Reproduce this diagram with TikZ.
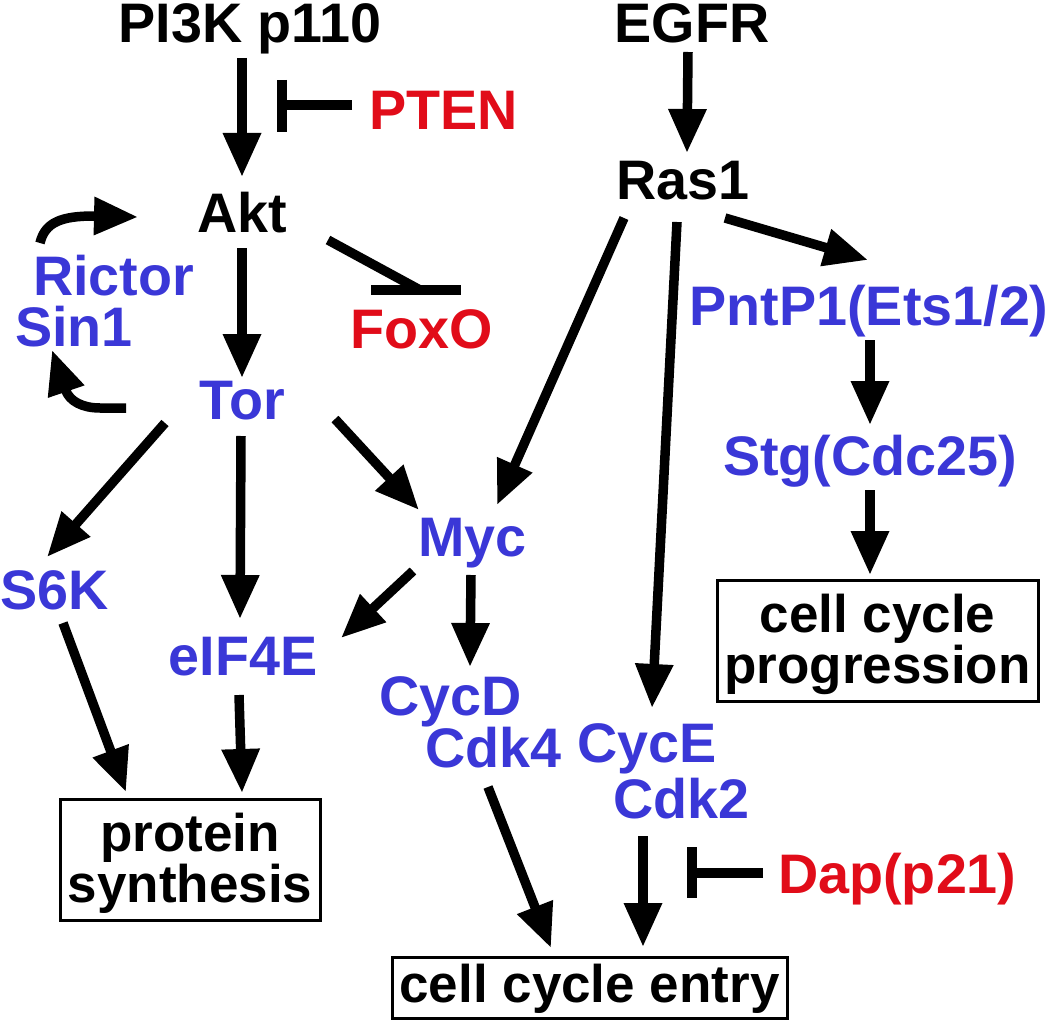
\documentclass[tikz,border=0pt]{standalone}
\usepackage{fontspec}
\setmainfont{Liberation Sans}
\usetikzlibrary{arrows.meta}
\definecolor{nblue}{RGB}{58,55,215}
\definecolor{nred}{RGB}{225,12,25}
\begin{document}
\begin{tikzpicture}[x=1pt,y=-1pt,
  lab/.style={inner sep=0pt, font=\fontsize{55.7}{60}\selectfont\bfseries},
  blk/.style={lab, text=black},
  blu/.style={lab, text=nblue},
  rd/.style={lab, text=nred},
  btxt/.style={inner sep=0pt, anchor=base, font=\fontsize{53}{58}\selectfont\bfseries},
  arr/.style={line width=9.5pt, -{Triangle[length=44pt,width=36pt]}},
  inh/.style={line width=9.5pt},
  boxd/.style={draw, line width=3pt, inner sep=0pt}]
\useasboundingbox (0,0) rectangle (1050,1022);

% ---- labels ----
\node[blk, anchor=base] (pi3k) at (250,43) {PI3K p110};
\node[blk, anchor=base] (egfr) at (692,43) {EGFR};
\node[rd, anchor=base west] (pten) at (369,130) {PTEN};
\node[blk, anchor=base] (akt) at (242,232) {Akt};
\node[blk, anchor=base] (ras) at (683,200) {Ras1};
\node[blu, anchor=base west] (rictor) at (33,295) {Rictor};
\node[blu, anchor=base west] (sin) at (15,346) {Sin1};
\node[rd, anchor=base east] (foxo) at (493,348) {FoxO};
\node[blu, anchor=base] (tor) at (242,419) {Tor};
\node[blu, anchor=base] (pnt) at (869,325) {PntP1(Ets1/2)};
\node[blu, anchor=base] (stg) at (870,475) {Stg(Cdc25)};
\node[blu, anchor=base west] (s6k) at (0,609) {S6K};
\node[blu, anchor=base west] (myc) at (418,556) {Myc};
\node[blu, anchor=base] (eif) at (243,675) {eIF4E};
\node[blu, anchor=base west] (cycd) at (379,715) {CycD};
\node[blu, anchor=base west] (cdk4) at (425,767) {Cdk4};
\node[blu, anchor=base west] (cyce) at (577,762) {CycE};
\node[blu, anchor=base west] (cdk2) at (613,818) {Cdk2};
\node[rd, anchor=base west] (dap) at (778,893) {Dap(p21)};

% ---- boxes ----
\node[boxd, minimum width=260pt, minimum height=121pt] (prot) at (190,859.5) {};
\node[btxt] (prot1) at (190,851) {protein};
\node[btxt] (prot2) at (190,902) {synthesis};
\node[boxd, minimum width=321pt, minimum height=121pt] (prog) at (877.5,640.5) {};
\node[btxt] (prog1) at (877.5,632) {cell cycle};
\node[btxt] (prog2) at (877.5,683) {progression};
\node[boxd, minimum width=395pt, minimum height=61pt] (entry) at (589.5,987.5) {};
\node[btxt] (entry1) at (589.5,1002) {cell cycle entry};

% ---- connector end points ----
\coordinate (a1s) at (242,58);   \coordinate (a1e) at (242,177);
\coordinate (a2s) at (688,52);   \coordinate (a2e) at (687,153);
\coordinate (a3s) at (242,248);  \coordinate (a3e) at (242,378);
\coordinate (a6s) at (165,423);  \coordinate (a6e) at (47,557);
\coordinate (a7s) at (241,436);  \coordinate (a7e) at (240,619);
\coordinate (a8s) at (335,419);  \coordinate (a8e) at (419,510);
\coordinate (a9s) at (624,218);  \coordinate (a9e) at (497,505);
\coordinate (a10s) at (677,222); \coordinate (a10e) at (652,708);
\coordinate (a11s) at (725,218); \coordinate (a11e) at (868,260);
\coordinate (a12s) at (870,340); \coordinate (a12e) at (870,425);
\coordinate (a13s) at (870,490); \coordinate (a13e) at (870,575);
\coordinate (a14s) at (413,571); \coordinate (a14e) at (341,638);
\coordinate (a15s) at (471,575); \coordinate (a15e) at (470,667);
\coordinate (a16s) at (63,623);  \coordinate (a16e) at (126,792);
\coordinate (a17s) at (239,695); \coordinate (a17e) at (242,793);
\coordinate (a18s) at (488,787); \coordinate (a18e) at (551,948);
\coordinate (a19s) at (643,836); \coordinate (a19e) at (643,947);

% ---- activating arrows ----
\draw[arr] (a1s) -- (a1e);
\draw[arr] (a2s) -- (a2e);
\draw[arr] (a3s) -- (a3e);
\draw[arr] (a6s) -- (a6e);
\draw[arr] (a7s) -- (a7e);
\draw[arr] (a8s) -- (a8e);
\draw[arr] (a9s) -- (a9e);
\draw[arr] (a10s) -- (a10e);
\draw[arr] (a11s) -- (a11e);
\draw[arr] (a12s) -- (a12e);
\draw[arr] (a13s) -- (a13e);
\draw[arr] (a14s) -- (a14e);
\draw[arr] (a15s) -- (a15e);
\draw[arr] (a16s) -- (a16e);
\draw[arr] (a17s) -- (a17e);
\draw[arr] (a18s) -- (a18e);
\draw[arr] (a19s) -- (a19e);

% ---- curved arrows (Rictor/Sin1 loop) ----
\coordinate (r1s) at (40,243);  \coordinate (r1e) at (138,217);
\draw[arr] (r1s) .. controls (45,222) and (62,216) .. (94,216) -- (r1e);
\coordinate (r2s) at (126,408); \coordinate (r2e) at (52,350);
\draw[arr] (r2s) -- (100,408) .. controls (82,408) and (70,401) .. (66,391) -- (r2e);

% ---- inhibitions ----
\coordinate (i1s) at (352,105); \coordinate (i1e) at (282,105);
\coordinate (b1a) at (282,80);  \coordinate (b1b) at (282,132);
\draw[inh] (i1s) -- (i1e);
\draw[inh] (b1a) -- (b1b);
\coordinate (i2s) at (328,240); \coordinate (i2e) at (420,290);
\coordinate (b2a) at (371,290); \coordinate (b2b) at (461,290);
\draw[inh] (i2s) -- (i2e);
\draw[inh] (b2a) -- (b2b);
\coordinate (i3s) at (763,873); \coordinate (i3e) at (692,873);
\coordinate (b3a) at (692,847); \coordinate (b3b) at (692,898);
\draw[inh] (i3s) -- (i3e);
\draw[inh] (b3a) -- (b3b);
\end{tikzpicture}
\end{document}
